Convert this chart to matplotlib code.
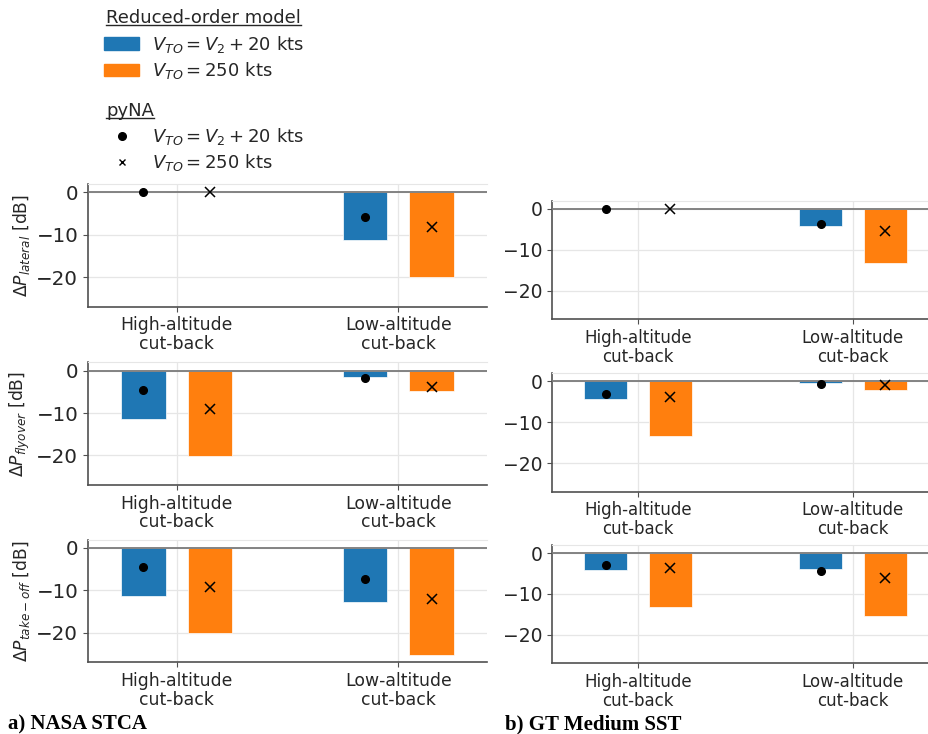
import numpy as np
import matplotlib
matplotlib.use('Agg')
import matplotlib.pyplot as plt
from matplotlib.lines import Line2D
from matplotlib.patches import Patch

# categorias (eixo x)
casos = ['High-altitude\ncut-back', 'Low-altitude\ncut-back']

# a) NASA STCA - modelo de ordem reduzida (barras) e pyNA (marcadores)
stca_rom_v2 = {'lateral': [0.0, -11.3], 'flyover': [-11.5, -1.4], 'takeoff': [-11.4, -12.8]}
stca_rom_250 = {'lateral': [0.0, -20.0], 'flyover': [-20.2, -4.9], 'takeoff': [-20.1, -25.2]}
stca_pyna_v2 = {'lateral': [0.0, -5.9], 'flyover': [-4.5, -1.6], 'takeoff': [-4.5, -7.4]}
stca_pyna_250 = {'lateral': [0.0, -8.1], 'flyover': [-9.1, -3.9], 'takeoff': [-9.1, -12.1]}

# b) GT Medium SST
gt_rom_v2 = {'lateral': [0.0, -4.1], 'flyover': [-4.2, -0.3], 'takeoff': [-4.2, -4.0]}
gt_rom_250 = {'lateral': [0.0, -13.2], 'flyover': [-13.3, -2.2], 'takeoff': [-13.3, -15.5]}
gt_pyna_v2 = {'lateral': [0.0, -3.7], 'flyover': [-3.1, -0.65], 'takeoff': [-2.9, -4.3]}
gt_pyna_250 = {'lateral': [0.0, -5.3], 'flyover': [-3.7, -0.8], 'takeoff': [-3.6, -6.1]}

observadores = ['lateral', 'flyover', 'takeoff']
ylabels = [r'$\Delta P_{lateral}$ [dB]', r'$\Delta P_{flyover}$ [dB]', r'$\Delta P_{take-off}$ [dB]']

azul = '#1f77b4'
laranja = '#ff7f0e'
texto = '#262626'
W, H = 929, 734

fig = plt.figure(figsize=(W/100, H/100), dpi=100)

def eixo(x0, x1, y0, y1):
  # posição em pixels -> fração da figura
  return fig.add_axes([x0/W, 1 - y1/H, (x1 - x0)/W, (y1 - y0)/H])

def painel(ax, rom_v2, rom_250, pyna_v2, pyna_250, ylabel, fs_y, fs_x):
  x = np.arange(len(casos))
  ax.bar(x - 0.15, rom_v2, 0.2, color=azul, edgecolor='white', linewidth=0.5, zorder=2)
  ax.bar(x + 0.15, rom_250, 0.2, color=laranja, edgecolor='white', linewidth=0.5, zorder=2)
  ax.axhline(0, color='#7a7a7a', linewidth=1.3, zorder=3)
  ax.plot(x - 0.15, pyna_v2, 'o', color='black', markersize=5.5, zorder=4)
  ax.plot(x + 0.15, pyna_250, 'x', color='black', markersize=6.5, markeredgewidth=1.1, zorder=4)
  ax.set_xlim(-0.4, 1.4)
  ax.set_ylim(-27, 2)
  ax.set_yticks([0, -10, -20])
  ax.set_xticks(x)
  ax.set_xticklabels(casos, fontsize=fs_x, color=texto, linespacing=1.05)
  ax.tick_params(axis='y', labelsize=fs_y, labelcolor=texto, length=3.5, color='#505050')
  ax.tick_params(axis='x', length=3.5, color='#505050', pad=3.5)
  ax.grid(True, color='#e6e6e6', linewidth=0.9, zorder=0)
  ax.set_axisbelow(True)
  ax.spines['right'].set_visible(False)
  ax.spines['top'].set_color('#e6e6e6')
  for s in ['left', 'bottom']:
    ax.spines[s].set_color('#505050')
    ax.spines[s].set_linewidth(1.2)
  if ylabel:
    ax.set_ylabel(ylabel, fontsize=12.3, color=texto, labelpad=3)

# painel a)
lim_esq = [(184, 306.6), (362.3, 485), (539.5, 662.3)]
for k, ob in enumerate(observadores):
  ax = eixo(88, 487, *lim_esq[k])
  painel(ax, stca_rom_v2[ob], stca_rom_250[ob], stca_pyna_v2[ob], stca_pyna_250[ob],
         ylabels[k], 14.3, 12.4)

# painel b)
lim_dir = [(200.7, 319.3), (373.3, 491.7), (545, 663.3)]
for k, ob in enumerate(observadores):
  ax = eixo(552, 939, *lim_dir[k])
  painel(ax, gt_rom_v2[ob], gt_rom_250[ob], gt_pyna_v2[ob], gt_pyna_250[ob],
         None, 13.5, 12)

# legendas (títulos como texto sublinhado)
h_rom = [Patch(color=azul), Patch(color=laranja)]
h_pyna = [Line2D([], [], ls='none', marker='o', color='black', markersize=5.5),
          Line2D([], [], ls='none', marker='x', color='black', markersize=5)]
rot = [r'$V_{TO} = V_2 + 20$ kts', r'$V_{TO} = 250$ kts']
kw = dict(frameon=False, loc='upper left', fontsize=13,
          handlelength=1.95, handleheight=0.7, handletextpad=0.72,
          labelspacing=0.3, borderpad=0, borderaxespad=0, labelcolor=texto)
fig.legend(h_rom, rot, bbox_to_anchor=(104/W, 1 - 34/H), **kw)
fig.legend(h_pyna, rot, bbox_to_anchor=(104/W, 1 - 126/H), **kw)

titulos = [fig.text(106/W, 1 - 23/H, 'Reduced-order model', fontsize=13, color=texto, va='baseline'),
           fig.text(106/W, 1 - 116/H, 'pyNA', fontsize=13, color=texto, va='baseline')]

# sublinhar os títulos
fig.canvas.draw()
for t, yb in zip(titulos, [23, 116]):
  bb = t.get_window_extent()
  y = 1 - (yb + 1.5)/H
  fig.add_artist(Line2D([bb.x0/W, bb.x1/W], [y, y], color=texto, linewidth=1.0,
                        transform=fig.transFigure))

fig.text(8/W, 1 - 729/H, 'a) NASA STCA', fontsize=15, fontweight='bold',
         family='Liberation Serif', va='baseline')
fig.text(505/W, 1 - 729/H, 'b) GT Medium SST', fontsize=15, fontweight='bold',
         family='Liberation Serif', va='baseline')

fig.savefig('out.png', dpi=100)
